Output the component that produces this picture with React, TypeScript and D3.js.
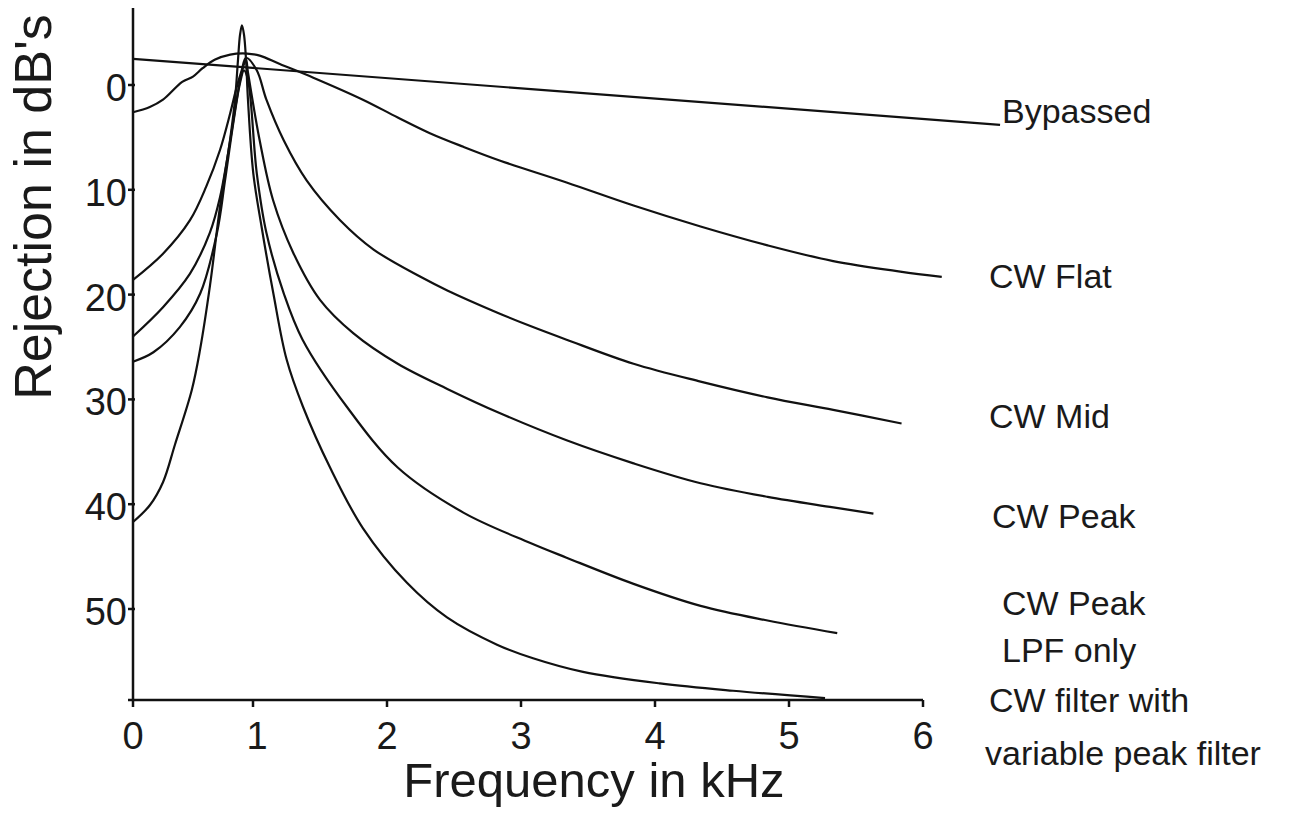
import React from 'react';
import * as d3 from 'd3';

// ---------- data (frequency in kHz, rejection in dB) ----------
const xTicks = [0, 1, 2, 3, 4, 5, 6];
const yTicks = [0, 10, 20, 30, 40, 50];

const bypassed: [number, number][] = [[0, -2.5], [6.575, 3.8]];

const cwFlat: [number, number][] = [
  [0, 2.6], [0.14, 2.1], [0.25, 1.4], [0.41, -0.3], [0.5, -0.8], [0.58, -1.6], [0.68, -2.4],
  [0.81, -2.9], [0.95, -3.0], [1.05, -2.8], [1.2, -2.0], [1.45, -0.7], [1.82, 1.4], [2.08, 3.1],
  [2.32, 4.6], [2.57, 5.9], [2.84, 7.2], [3.34, 9.3], [3.84, 11.5], [4.34, 13.5], [4.84, 15.3],
  [5.33, 16.8], [5.83, 17.8], [6.14, 18.3],
];

const cwMid: [number, number][] = [
  [0, 18.6], [0.25, 16.1], [0.475, 12.9], [0.61, 9.7], [0.725, 6.2], [0.81, 2.7], [0.864, 0.2],
  [0.906, -1.4], [0.942, -2.6], [1.028, -1.4], [1.10, 1.4], [1.23, 5.3], [1.40, 9.1], [1.65, 12.9],
  [1.90, 15.7], [2.25, 18.3], [2.45, 19.6], [2.82, 21.7], [3.07, 23.0], [3.34, 24.3], [3.84, 26.6],
  [4.34, 28.3], [4.84, 29.8], [5.33, 31.0], [5.84, 32.3],
];

const cwPeak: [number, number][] = [
  [0, 24.0], [0.25, 21.2], [0.475, 18.0], [0.64, 14.1], [0.725, 10.7], [0.81, 5.3], [0.864, 1.4],
  [0.906, -1.2], [0.942, -2.4], [0.958, -1.2], [1.05, 5.3], [1.15, 11.0], [1.30, 16.0], [1.50, 20.5],
  [1.75, 23.7], [2.08, 26.6], [2.45, 29.0], [2.84, 31.3], [3.34, 33.9], [3.84, 36.1], [4.34, 38.0],
  [4.84, 39.3], [5.33, 40.3], [5.63, 40.9],
];

const cwPeakLpf: [number, number][] = [
  [0, 26.4], [0.17, 25.5], [0.39, 23.1], [0.56, 19.9], [0.70, 14.1], [0.767, 9.1], [0.836, 3.6],
  [0.892, -0.2], [0.925, -1.4], [0.958, -0.5], [1.028, 8.4], [1.10, 14.1], [1.23, 19.9], [1.37, 24.3],
  [1.70, 30.7], [2.08, 36.5], [2.57, 40.8], [3.07, 43.7], [3.34, 45.1], [3.84, 47.6], [4.34, 49.7],
  [4.84, 51.1], [5.36, 52.3],
];

const cwVariable: [number, number][] = [
  [0, 41.7], [0.14, 40.1], [0.25, 37.9], [0.35, 34.3], [0.49, 29.1], [0.558, 25.3], [0.642, 19.1],
  [0.725, 11.6], [0.808, 5.3], [0.85, 1.4], [0.875, -2.4], [0.892, -4.8], [0.908, -5.7], [0.925, -4.8],
  [0.942, -2.4], [0.958, 1.4], [1.002, 8.4], [1.065, 13.6], [1.152, 19.9], [1.251, 26.2], [1.373, 30.7],
  [1.575, 36.5], [1.821, 42.3], [2.149, 47.5], [2.448, 50.8], [2.821, 53.4], [3.09, 54.7], [3.463, 56.0],
  [4.037, 57.1], [4.582, 57.8], [5.269, 58.5],
];

const seriesList = [bypassed, cwFlat, cwMid, cwPeak, cwPeakLpf, cwVariable];
const seriesLabels: string[][] = [
  ['Bypassed'],
  ['CW Flat'],
  ['CW Mid'],
  ['CW Peak'],
  ['CW Peak', 'LPF only'],
  ['CW filter with', 'variable peak filter'],
];

const xTitle = 'Frequency in kHz';
const yTitle = "Rejection in dB's";

// ---------- layout ----------
const W = 1303;
const H = 813;
const FONT = "'Liberation Sans', Arial, sans-serif";
const axisX = 133;
const axisBottom = 700;
const axisTop = 8;
const labelPos: [number, number][][] = [
  [[1002, 123]],
  [[989, 288]],
  [[989, 428]],
  [[992, 528]],
  [[1002, 615], [1002, 662]],
  [[989, 712], [985, 765]],
];

export default function App() {
  const x = d3.scaleLinear().domain([0, 1, 6]).range([133, 253, 923]);
  const y = d3.scaleLinear().domain([0, 50]).range([85, 609]);

  const line = d3
    .line<[number, number]>()
    .x((d) => x(d[0]))
    .y((d) => y(d[1]))
    .curve(d3.curveCatmullRom.alpha(0.5));

  return (
    <svg
      width={W}
      height={H}
      viewBox={`0 0 ${W} ${H}`}
      style={{ position: 'absolute', left: 0, top: 0, background: '#fff' }}
    >
      <rect x={0} y={0} width={W} height={H} fill="#fff" />

      {/* axes */}
      <line x1={axisX} y1={axisTop} x2={axisX} y2={axisBottom} stroke="#111" strokeWidth={2.5} />
      <line x1={128} y1={axisBottom} x2={x(6)} y2={axisBottom} stroke="#111" strokeWidth={2.5} />

      {yTicks.map((t) => (
        <g key={'y' + t}>
          <line x1={axisX - 5} x2={axisX + 2} y1={y(t)} y2={y(t)} stroke="#111" strokeWidth={2.5} />
          <text
            x={127}
            y={y(t) + 3}
            dominantBaseline="central"
            textAnchor="end"
            fontFamily={FONT}
            fontSize={38}
            fill="#1a1a1a"
          >
            {t}
          </text>
        </g>
      ))}

      {xTicks.map((t) => (
        <g key={'x' + t}>
          <line x1={x(t)} x2={x(t)} y1={axisBottom} y2={axisBottom + 7} stroke="#111" strokeWidth={2.5} />
          <text
            x={x(t) + (t === 1 ? 4 : 0)}
            y={749}
            textAnchor="middle"
            fontFamily={FONT}
            fontSize={38}
            fill="#1a1a1a"
          >
            {t}
          </text>
        </g>
      ))}

      {/* curves */}
      {seriesList.map((s, i) => (
        <path key={'s' + i} d={line(s) || ''} fill="none" stroke="#111" strokeWidth={2.2} strokeLinejoin="round" />
      ))}

      {/* series labels */}
      {seriesLabels.map((lines, i) =>
        lines.map((txt, j) => (
          <text
            key={'l' + i + '-' + j}
            x={labelPos[i][j][0]}
            y={labelPos[i][j][1]}
            fontFamily={FONT}
            fontSize={34}
            fill="#1a1a1a"
          >
            {txt}
          </text>
        ))
      )}

      {/* titles */}
      <text x={594} y={797} textAnchor="middle" fontFamily={FONT} fontSize={49} fill="#1a1a1a">
        {xTitle}
      </text>
      <text
        transform="translate(51,207) rotate(-90)"
        textAnchor="middle"
        fontFamily={FONT}
        fontSize={52}
        fill="#1a1a1a"
      >
        {yTitle}
      </text>
    </svg>
  );
}
